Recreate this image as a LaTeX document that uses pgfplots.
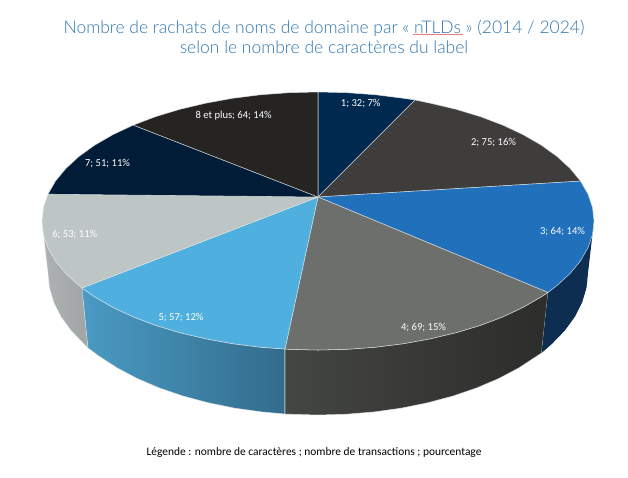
\documentclass[border=0pt]{standalone}
\usepackage{fontspec}
\setmainfont{Carlito}
\newfontfamily\titlefont{Lato}[UprightFont=* Light]
\usepackage{pgfplots}
\pgfplotsset{compat=1.18}
\definecolor{cA}{HTML}{00294F}
\definecolor{cB}{HTML}{3F3C3C}
\definecolor{cC}{HTML}{2070BC}
\definecolor{cD}{HTML}{6C6F6B}
\definecolor{cE}{HTML}{4FAFDF}
\definecolor{cF}{HTML}{BEC5C5}
\definecolor{cG}{HTML}{011C36}
\definecolor{cH}{HTML}{262323}
\definecolor{titleblue}{HTML}{2E75B0}
\definecolor{edge}{HTML}{E4E8E8}
\definecolor{sFl}{HTML}{AEB2B2}
\definecolor{sFr}{HTML}{A0A4A4}
\tikzset{
  wedge/.style={fill=#1, draw=edge, draw opacity=.75, line width=.55pt, line join=round},
  lab/.style={text=white, inner sep=0pt, font=\fontsize{10.6}{12}\selectfont},
}
\begin{document}
\begin{tikzpicture}
\begin{axis}[
  scale only axis, width=628pt, height=478pt,
  xmin=0, xmax=628, ymin=0, ymax=478, y dir=reverse,
  hide axis, no marks, clip=false,
]
\path[use as bounding box] (axis cs:0,0) rectangle (axis cs:628,478);
% side faces
\addplot[left color=sFl, right color=sFr, draw=edge, draw opacity=.6, line width=.5pt] coordinates {
(82,288)(79,285.5)(65.9,273.5)(55.5,260.9)(48,247.8)(43.5,234.5)(42,221)(48,273)(49.5,287.8)(53.9,302.5)(61.2,316.9)(71.4,330.8)(84.2,344)(88,348)(82,288)};
\addplot[left color={rgb,255:red,74;green,154;blue,196}, right color={rgb,255:red,50;green,108;blue,140}, draw=edge, draw opacity=.75, line width=.55pt] coordinates {
(285,349)(260.6,347.2)(232.7,343.7)(205.8,338.8)(180,332.7)(155.8,325.4)(133.3,316.9)(112.9,307.3)(94.7,296.8)(82,288)(88,348)(99.6,356.5)(117.4,368)(137.3,378.5)(159.3,387.9)(183,396)(208.2,402.7)(234.6,408.1)(261.9,411.9)(285,414)(285,349)};
\addplot[left color={rgb,255:red,68;green,70;blue,66}, right color={rgb,255:red,44;green,45;blue,43}, draw=edge, draw opacity=.75, line width=.55pt] coordinates {
(548,292.5)(541.3,296.8)(523.1,307.3)(502.7,316.9)(480.2,325.4)(456,332.7)(430.2,338.8)(403.3,343.7)(375.4,347.2)(346.8,349.3)(318,350)(289.2,349.3)(285,349)(285,414)(289.8,414.2)(318,415)(346.2,414.2)(374.1,411.9)(401.4,408.1)(427.8,402.7)(453,396)(476.7,387.9)(498.7,378.5)(518.6,368)(541.5,353)(548,292.5)};
\addplot[fill={rgb,255:red,13;green,46;blue,80}, draw=none] coordinates {
(548,292.5)(557,285.5)(570.1,273.5)(580.5,260.9)(588,247.8)(592.5,234.5)(594,221)(588,273)(586.5,287.8)(582.1,302.5)(574.8,316.9)(564.6,330.8)(551.8,344)(541.5,353)(548,292.5)};
% top faces
\addplot[wedge=cA] coordinates {(318,197)(318,92)(346.8,92.7)(375.4,94.8)(403.3,98.3)(415,100)(318,197)};
\addplot[wedge=cB] coordinates {(318,197)(415,100)(430.2,103.2)(456,109.3)(480.2,116.6)(502.7,125.1)(523.1,134.7)(541.3,145.2)(557,156.5)(570.1,168.5)(580.5,181.1)(318,197)};
\addplot[wedge=cC] coordinates {(318,197)(580.5,181.1)(588,194.2)(592.5,207.5)(594,221)(592.5,234.5)(588,247.8)(580.5,260.9)(570.1,273.5)(557,285.5)(548,292.5)(318,197)};
\addplot[wedge=cD] coordinates {(318,197)(548,292.5)(541.3,296.8)(523.1,307.3)(502.7,316.9)(480.2,325.4)(456,332.7)(430.2,338.8)(403.3,343.7)(375.4,347.2)(346.8,349.3)(318,350)(289.2,349.3)(285,349)(318,197)};
\addplot[wedge=cE] coordinates {(318,197)(285,349)(260.6,347.2)(232.7,343.7)(205.8,338.8)(180,332.7)(155.8,325.4)(133.3,316.9)(112.9,307.3)(94.7,296.8)(82,288)(318,197)};
\addplot[wedge=cF] coordinates {(318,197)(82,288)(79,285.5)(65.9,273.5)(55.5,260.9)(48,247.8)(43.5,234.5)(42,221)(43.5,207.5)(48,194.2)(318,197)};
\addplot[wedge=cG] coordinates {(318,197)(48,194.2)(55.5,181.1)(65.9,168.5)(79,156.5)(94.7,145.2)(112.9,134.7)(133.3,125.1)(318,197)};
\addplot[wedge=cH] coordinates {(318,197)(133.3,125.1)(155.8,116.6)(180,109.3)(205.8,103.2)(232.7,98.3)(260.6,94.8)(289.2,92.7)(318,92)(318,197)};
% labels
\node[lab] at (axis cs:360.7,103.8) {1; 32; 7\%};
\node[lab] at (axis cs:493.5,142.2) {2; 75; 16\%};
\node[lab] at (axis cs:562.5,231.2) {3; 64; 14\%};
\node[lab] at (axis cs:423.5,327.2) {4; 69; 15\%};
\node[lab] at (axis cs:181,317.8) {5; 57; 12\%};
\node[lab] at (axis cs:74.8,234.8) {6; 53; 11\%};
\node[lab] at (axis cs:107.5,163.8) {7; 51; 11\%};
\node[lab] at (axis cs:233.7,115.2) {8 et plus; 64; 14\%};
% title and note
\node[inner sep=0pt, text=titleblue, align=center, font=\titlefont\fontsize{17.46}{20.5}\selectfont] at (axis cs:324,37) {Nombre de rachats de noms de domaine par « nTLDs » (2014 / 2024)\\selon le nombre de caractères du label};
\node[inner sep=0pt, text=black, font=\fontsize{11.44}{13}\selectfont] at (axis cs:314,453) {Légende : nombre de caractères ; nombre de transactions ; pourcentage};
\addplot[red!80!black, line width=.4pt] coordinates {(413,34)(415,35)(417,34)(419,35)(421,34)(423,35)(425,34)(427,35)(429,34)(431,35)(433,34)(435,35)(437,34)(439,35)(441,34)(443,35)(445,34)(447,35)(449,34)(451,35)(453,34)(455,35)(457,34)(459,35)(461,34)(463,35)};
\end{axis}
\end{tikzpicture}
\end{document}
